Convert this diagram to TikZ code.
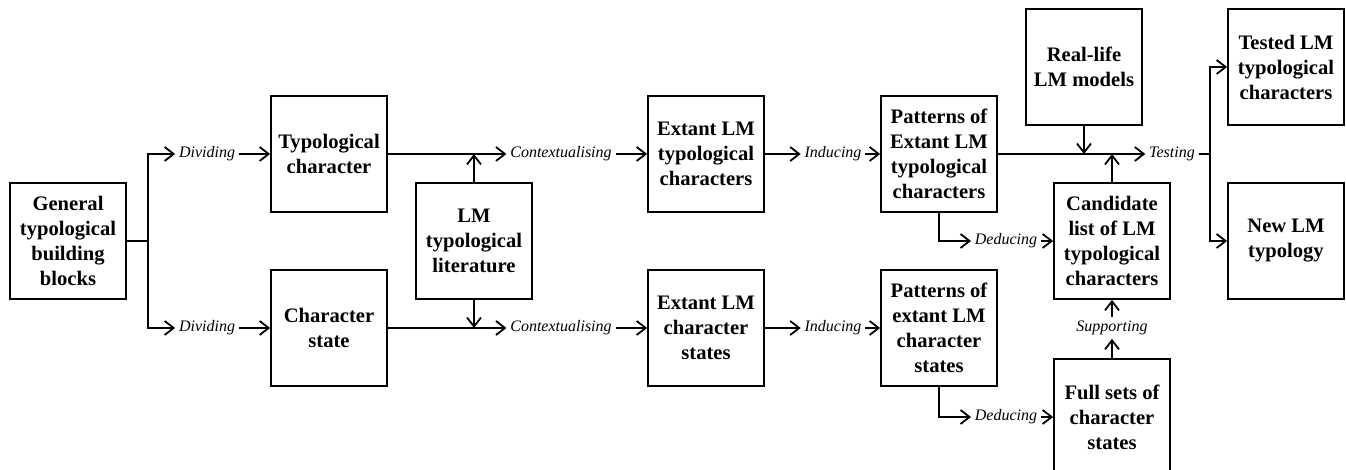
\documentclass[tikz,border=0pt]{standalone}
\usepackage{fontspec}
\setmainfont{Liberation Serif}
\usetikzlibrary{arrows.meta}

\begin{document}
\begin{tikzpicture}[x=0.5pt,y=0.5pt,line width=0.9pt,
    >={Straight Barb[length=4.5pt,width=7pt]}]

  \useasboundingbox (0,0) rectangle (1346,470);

  \begin{scope}[every node/.style={draw,rectangle,align=center,
      font=\fontsize{10.3}{12.5}\selectfont\bfseries,
      minimum width=58pt,minimum height=58pt,inner sep=2pt}]
    \node (gen)    at (68,229)   {General\\typological\\building\\blocks};
    \node (tchar)  at (329,316)  {Typological\\character};
    \node (cstate) at (329,142)  {Character\\state};
    \node (lit)    at (474,229)  {LM\\typological\\literature};
    \node (etc)    at (706,316)  {Extant LM\\typological\\characters};
    \node (ecs)    at (706,142)  {Extant LM\\character\\states};
    \node (pet)    at (939,316)  {Patterns of\\Extant LM\\typological\\characters};
    \node (pes)    at (939,142)  {Patterns of\\extant LM\\character\\states};
    \node (real)   at (1084,403) {Real-life\\LM models};
    \node (cand)   at (1112,229) {Candidate\\list of LM\\typological\\characters};
    \node (full)   at (1112,53)  {Full sets of\\character\\states};
    \node (tested) at (1286,403) {Tested LM\\typological\\characters};
    \node (newt)   at (1286,229) {New LM\\typology};
  \end{scope}

  \begin{scope}[every node/.style={font=\footnotesize\itshape,inner sep=1.5pt}]
    \node (div1) at (207,316)  {Dividing};
    \node (div2) at (207,142)  {Dividing};
    \node (ctx1) at (561,316)  {Contextualising};
    \node (ctx2) at (561,142)  {Contextualising};
    \node (ind1) at (833,316)  {Inducing};
    \node (ind2) at (833,142)  {Inducing};
    \node (ded1) at (1006,229) {Deducing};
    \node (ded2) at (1006,53)  {Deducing};
    \node (test) at (1172,316) {Testing};
    \node (sup)  at (1112,142) {Supporting};
  \end{scope}

  \coordinate (split) at (148,229);
  \coordinate (fork)  at (1210,316);

  % dividing the building blocks
  \draw (gen) -- (split);
  \draw[->] (split) |- (div1);
  \draw[->] (split) |- (div2);
  \draw[->] (div1) -- (tchar);
  \draw[->] (div2) -- (cstate);

  % contextualising with the literature
  \draw[->] (tchar) -- (ctx1);
  \draw[->] (cstate) -- (ctx2);
  \draw[->] (lit) -- (lit |- tchar);
  \draw[->] (lit) -- (lit |- cstate);
  \draw[->] (ctx1) -- (etc);
  \draw[->] (ctx2) -- (ecs);

  % inducing the patterns
  \draw[->] (etc) -- (ind1);
  \draw[->] (ecs) -- (ind2);
  \draw[->] (ind1) -- (pet);
  \draw[->] (ind2) -- (pes);

  % deducing and supporting
  \draw[->] (pet.south) |- (ded1);
  \draw[->] (pes.south) |- (ded2);
  \draw[->] (ded1) -- (cand);
  \draw[->] (ded2) -- (full);
  \draw[->] (full) -- (sup);
  \draw[->] (sup) -- (cand);

  % testing
  \draw[->] (pet) -- (test);
  \draw[->] (real) -- (real |- pet);
  \draw[->] (cand) -- (cand |- pet);
  \draw (test) -- (fork);
  \draw[->] (fork) |- (tested);
  \draw[->] (fork) |- (newt);

\end{tikzpicture}
\end{document}
